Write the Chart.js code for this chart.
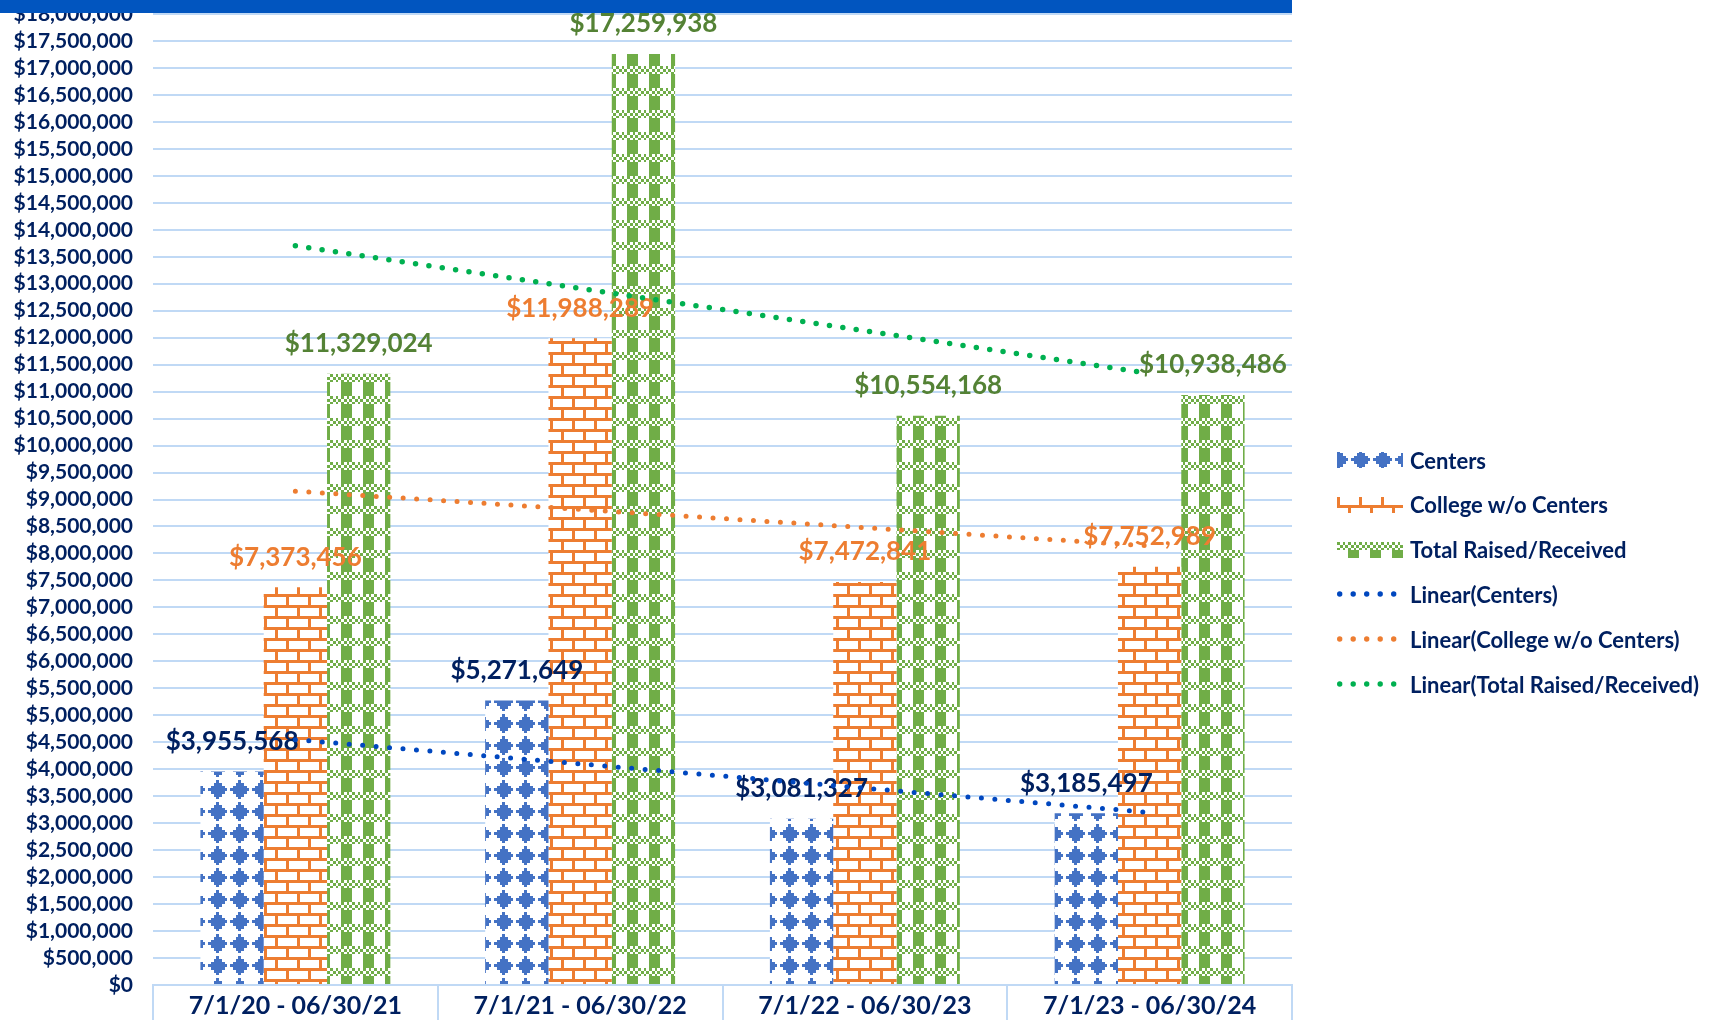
<!DOCTYPE html>
<html>
<head>
<meta charset="utf-8">
<title>Raised / Received by Fiscal Year</title>
<script src="https://cdn.jsdelivr.net/npm/chart.js@4.4.1/dist/chart.umd.min.js"></script>
<style>
  html, body { margin: 0; padding: 0; background: #fff; }
  #wrap { position: relative; width: 1712px; height: 1020px; overflow: hidden; }
  #topbar { position: absolute; left: 0; top: 0; width: 1292px; height: 13px; background: #0155bf; z-index: 2; }
  #legend { position: absolute; left: 1337px; top: 0; font: bold 22px Lato, sans-serif; color: #002060; }
  .item { position: absolute; left: 0; height: 30px; display: flex; align-items: center; white-space: nowrap; }
  .item canvas { margin-right: 7px; }
</style>
</head>
<body>
<div id="wrap">
  <canvas id="chart" width="1712" height="1020"></canvas>
  <div id="topbar"></div>
  <div id="legend"></div>
</div>
<script>
// fiscal years
const periods = ['7/1/20 - 06/30/21', '7/1/21 - 06/30/22', '7/1/22 - 06/30/23', '7/1/23 - 06/30/24'];

// amounts per year
const centers = [3955568, 5271649, 3081327, 3185497];
const collegeNoCenters = [7373456, 11988289, 7472841, 7752989];
const totalRaised = [11329024, 17259938, 10554168, 10938486];

// y axis range
const yMax = 18000000;
const yStep = 500000;

const navy = '#002060';
const gridBlue = '#c0d9f5';

// 8x8 fill patterns, each cell about 2.75px so one tile is 22px
const cellEdges = [0, 3, 6, 8, 11, 14, 17, 19, 22];

const diamondBits = [
  '...X....',
  '..XXX...',
  '.XXXXX..',
  'XXXXXXX.',
  '.XXXXX..',
  '..XXX...',
  '...X....',
  '........'
];
const brickBits = [
  'XXXXXXXX',
  'X.......',
  'X.......',
  'X.......',
  'XXXXXXXX',
  '....X...',
  '....X...',
  '....X...'
];
const plaidBits = [
  'X.X.X.X.',
  '.X.X.X.X',
  'X.X.X.X.',
  '....XXXX',
  '....XXXX',
  '....XXXX',
  '....XXXX',
  '....XXXX'
];

function makeTile(bits, color) {
  const tile = document.createElement('canvas');
  tile.width = 22;
  tile.height = 22;
  const t = tile.getContext('2d');
  t.fillStyle = '#ffffff';
  t.fillRect(0, 0, 22, 22);
  t.fillStyle = color;
  for (let r = 0; r < 8; r++) {
    for (let c = 0; c < 8; c++) {
      if (bits[r][c] === 'X') {
        t.fillRect(cellEdges[c], cellEdges[r], cellEdges[c + 1] - cellEdges[c], cellEdges[r + 1] - cellEdges[r]);
      }
    }
  }
  return tile;
}

// repeat a tile, shifted so the motif lines up where we want it
function tilePattern(c, tile, dx, dy) {
  const p = c.createPattern(tile, 'repeat');
  p.setTransform(new DOMMatrix().translate(dx, dy));
  return p;
}

const ctx = document.getElementById('chart').getContext('2d');

const centersTile = makeTile(diamondBits, '#4472c4');
const collegeTile = makeTile(brickBits, '#ed7d31');
const totalTile = makeTile(plaidBits, '#70ad47');

// least squares line over the year index, like a spreadsheet linear trendline
function linearTrend(values) {
  const n = values.length;
  const xMean = (n - 1) / 2;
  const yMean = values.reduce((a, b) => a + b, 0) / n;
  let num = 0;
  let den = 0;
  values.forEach((v, i) => {
    num += (i - xMean) * (v - yMean);
    den += (i - xMean) * (i - xMean);
  });
  const slope = num / den;
  return values.map((v, i) => yMean + slope * (i - xMean));
}

function money(v) {
  return '$' + Math.round(v).toLocaleString('en-US');
}

const labelColors = ['#002060', '#ed7d31', '#548235'];

// value labels above each bar
const barValueLabels = {
  id: 'barValueLabels',
  afterDatasetDraw(chart, args) {
    if (args.meta.type !== 'bar') return;
    const ds = chart.data.datasets[args.index];
    const c = chart.ctx;
    c.save();
    c.font = 'bold 26px Lato';
    c.fillStyle = labelColors[args.index];
    c.textAlign = 'center';
    c.textBaseline = 'middle';
    args.meta.data.forEach((bar, i) => {
      c.fillText(money(ds.data[i]), bar.x, bar.y - 30);
    });
    c.restore();
  }
};

function trendSet(label, values, color, width) {
  return {
    type: 'line',
    label: label,
    data: linearTrend(values),
    borderColor: color,
    borderWidth: width,
    borderDash: [0, 13.5],
    borderCapStyle: 'round',
    pointRadius: 0,
    fill: false,
    order: 0
  };
}

const myChart = new Chart(ctx, {
  type: 'bar',
  data: {
    labels: periods,
    datasets: [
      { label: 'Centers', data: centers, backgroundColor: tilePattern(ctx, centersTile, 10, 10), order: 1 },
      { label: 'College w/o Centers', data: collegeNoCenters, backgroundColor: tilePattern(ctx, collegeTile, 0, 0), order: 1 },
      { label: 'Total Raised/Received', data: totalRaised, backgroundColor: tilePattern(ctx, totalTile, 0, 0), order: 1 },
      trendSet('Linear(Centers)', centers, '#0047bf', 5),
      trendSet('Linear(College w/o Centers)', collegeNoCenters, '#ed7d31', 5),
      trendSet('Linear(Total Raised/Received)', totalRaised, '#00b050', 5.5)
    ]
  },
  options: {
    responsive: false,
    animation: false,
    layout: { padding: { top: 14, right: 420, bottom: 0, left: 0 } },
    datasets: {
      bar: { barPercentage: 1, categoryPercentage: 0.667 }
    },
    plugins: {
      legend: { display: false },
      tooltip: { enabled: false }
    },
    scales: {
      x: {
        grid: { display: true, drawOnChartArea: false, drawTicks: true, tickLength: 37, color: gridBlue, lineWidth: 2 },
        border: { display: true, color: gridBlue, width: 2 },
        ticks: { color: navy, font: { family: 'Lato', size: 25, weight: 'bold' }, padding: -31, maxRotation: 0 },
        afterFit: (scale) => { scale.height = 35; }
      },
      y: {
        min: 0,
        max: yMax,
        // invisible tick marks keep the labels 20px off the plot edge
        grid: { color: gridBlue, lineWidth: 2, drawTicks: true, tickLength: 20, tickColor: 'rgba(0,0,0,0)' },
        border: { display: false },
        ticks: {
          stepSize: yStep,
          autoSkip: false,
          padding: 0,
          color: navy,
          font: { family: 'Lato', size: 21, weight: 'bold' },
          callback: (value) => money(value)
        },
        afterFit: (scale) => { scale.width = 153; }
      }
    }
  },
  plugins: [barValueLabels]
});

// legend on the right, built from the chart's datasets
function buildLegend(chart) {
  const legendDiv = document.getElementById('legend');
  const tiles = [centersTile, collegeTile, totalTile];
  const shifts = [[-8, -2], [0, -3], [0, 0]];
  chart.data.datasets.forEach((ds, i) => {
    const item = document.createElement('div');
    item.className = 'item';
    item.style.top = (445 + i * 44.8) + 'px';

    const swatch = document.createElement('canvas');
    swatch.width = 66;
    swatch.height = 16;
    const s = swatch.getContext('2d');
    if (ds.type === 'line') {
      s.fillStyle = ds.borderColor;
      for (let k = 0; k < 5; k++) {
        s.beginPath();
        s.arc(2.7 + k * 13.5, 8, 2.7, 0, Math.PI * 2);
        s.fill();
      }
    } else {
      s.fillStyle = tilePattern(s, tiles[i], shifts[i][0], shifts[i][1]);
      s.fillRect(0, 0, 66, 16);
    }

    const text = document.createElement('span');
    text.textContent = ds.label;
    item.appendChild(swatch);
    item.appendChild(text);
    legendDiv.appendChild(item);
  });
}

buildLegend(myChart);
</script>
</body>
</html>
